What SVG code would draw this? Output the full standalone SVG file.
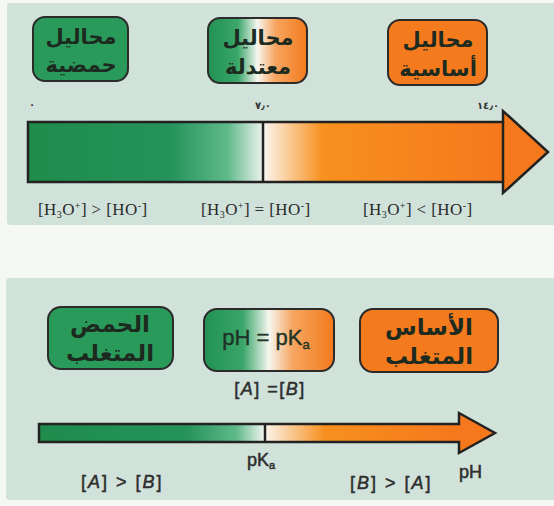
<svg xmlns="http://www.w3.org/2000/svg" width="554" height="506" viewBox="0 0 554 506">
  <defs>
    <linearGradient id="boxMix" x1="0" y1="0" x2="1" y2="0">
      <stop offset="0" stop-color="#239153"/>
      <stop offset="0.3" stop-color="#3aa66a"/>
      <stop offset="0.5" stop-color="#f6f6f0"/>
      <stop offset="0.68" stop-color="#f7a661"/>
      <stop offset="1" stop-color="#f27a1c"/>
    </linearGradient>
    <linearGradient id="barTop" gradientUnits="userSpaceOnUse" x1="28" y1="0" x2="503" y2="0">
      <stop offset="0" stop-color="#1f8c4c"/>
      <stop offset="0.3" stop-color="#25935a"/>
      <stop offset="0.42" stop-color="#5fb98a"/>
      <stop offset="0.497" stop-color="#f2f5f0"/>
      <stop offset="0.503" stop-color="#fbf0e2"/>
      <stop offset="0.62" stop-color="#f7901f"/>
      <stop offset="1" stop-color="#f6781c"/>
    </linearGradient>
    <linearGradient id="barBot" gradientUnits="userSpaceOnUse" x1="39" y1="0" x2="459" y2="0">
      <stop offset="0" stop-color="#1f8c4c"/>
      <stop offset="0.35" stop-color="#25935a"/>
      <stop offset="0.47" stop-color="#5fb98a"/>
      <stop offset="0.535" stop-color="#eef4ee"/>
      <stop offset="0.545" stop-color="#fbf0e2"/>
      <stop offset="0.68" stop-color="#f7901f"/>
      <stop offset="1" stop-color="#f6781c"/>
    </linearGradient>
    <style>
      .panel { fill: #d1e2da; }
      .box { stroke: #2b2b2b; stroke-width: 2; }
      .acid { fill: #2a9a5b; }
      .base { fill: #f47a1e; }
      .mix { fill: url(#boxMix); }
      .ar { font-family: "DejaVu Sans", sans-serif; font-weight: bold; font-size: 21px; fill: #1c2a20; text-anchor: middle; direction: rtl; }
      .ar2 { font-size: 23px; }
      .tick { font-family: "DejaVu Sans", sans-serif; font-size: 10px; font-weight: bold; fill: #333; text-anchor: middle; }
      .serif { font-family: "Liberation Serif", serif; font-size: 17px; letter-spacing: 0.4px; fill: #2a2a2a; }
      .sup { font-size: 10px; }
      .sans { font-family: "Liberation Sans", sans-serif; font-size: 18px; fill: #2e2e2e; stroke: #2e2e2e; stroke-width: 0.5; }
      .it { font-style: italic; }
      .edge { fill: none; stroke: #222; stroke-width: 2.5; stroke-linejoin: miter; }
    </style>
  </defs>

  <rect width="554" height="506" fill="#f5f7f5"/>

  <!-- upper panel: water scale -->
  <rect class="panel" x="7" y="3" width="560" height="222" rx="4"/>

  <g id="acidic">
    <rect class="box acid" x="33" y="17" width="95" height="64" rx="12"/>
    <text class="ar" x="81" y="44">محاليل</text>
    <text class="ar" x="81" y="72">حمضية</text>
  </g>
  <g id="neutral">
    <rect class="box mix" x="208" y="18" width="99" height="65" rx="12"/>
    <text class="ar" x="258" y="45">محاليل</text>
    <text class="ar" x="258" y="74">معتدلة</text>
  </g>
  <g id="basic">
    <rect class="box base" x="388" y="20" width="99" height="65" rx="12"/>
    <text class="ar" x="438" y="47">محاليل</text>
    <text class="ar" x="438" y="76">أساسية</text>
  </g>

  <g id="scale-top">
    <path d="M28,122 H503 V111 L548,152 L503,193 V182 H28 Z" fill="url(#barTop)"/>
    <path d="M503,122 V111 L548,152 L503,193 V182" fill="#f6781c"/>
    <path class="edge" d="M28,122 H503 V111 L548,152 L503,193 V182 H28 Z"/>
    <line x1="263" y1="122" x2="263" y2="182" stroke="#222" stroke-width="2.5"/>
    <line x1="503" y1="122" x2="503" y2="182" stroke="#222" stroke-width="2.5"/>
    <text class="tick" x="32" y="108">٠</text>
    <text class="tick" x="263" y="109">٧٫٠</text>
    <text class="tick" x="488" y="109">١٤٫٠</text>
  </g>

  <g id="ratios-top">
    <text class="serif" x="38" y="215">[H<tspan class="sup" dy="3">3</tspan><tspan dy="-3">O</tspan><tspan class="sup" dy="-6">+</tspan><tspan dy="6">] &gt; [HO</tspan><tspan class="sup" dy="-6">-</tspan><tspan dy="6">]</tspan></text>
    <text class="serif" x="201" y="215">[H<tspan class="sup" dy="3">3</tspan><tspan dy="-3">O</tspan><tspan class="sup" dy="-6">+</tspan><tspan dy="6">] = [HO</tspan><tspan class="sup" dy="-6">-</tspan><tspan dy="6">]</tspan></text>
    <text class="serif" x="363" y="215">[H<tspan class="sup" dy="3">3</tspan><tspan dy="-3">O</tspan><tspan class="sup" dy="-6">+</tspan><tspan dy="6">] &lt; [HO</tspan><tspan class="sup" dy="-6">-</tspan><tspan dy="6">]</tspan></text>
  </g>

  <!-- lower panel: acid/base pair -->
  <rect class="panel" x="6" y="278" width="560" height="222" rx="4"/>

  <g id="acid-dominant">
    <rect class="box acid" x="48" y="307" width="125" height="62" rx="13"/>
    <text class="ar ar2" x="110" y="332">الحمض</text>
    <text class="ar ar2" x="110" y="361">المتغلب</text>
  </g>
  <g id="half-point">
    <rect class="box mix" x="204" y="309" width="130" height="62" rx="13"/>
    <text x="266" y="345" font-family="Liberation Sans, sans-serif" font-size="22" fill="#1e3326" stroke="#1e3326" stroke-width="0.4" text-anchor="middle">pH = pK<tspan font-size="13" dy="4">a</tspan></text>
    <text class="sans" x="270" y="395" text-anchor="middle" letter-spacing="1.5">[<tspan class="it">A</tspan>] =[<tspan class="it">B</tspan>]</text>
  </g>
  <g id="base-dominant">
    <rect class="box base" x="360" y="309" width="138" height="63" rx="13"/>
    <text class="ar ar2" x="429" y="335">الأساس</text>
    <text class="ar ar2" x="429" y="364">المتغلب</text>
  </g>

  <g id="scale-bottom">
    <path d="M39,424 H459 V413 L495,433 L459,453 V442 H39 Z" fill="url(#barBot)"/>
    <path d="M459,424 V413 L495,433 L459,453 V442" fill="#f6781c"/>
    <path class="edge" d="M39,424 H459 V413 L495,433 L459,453 V442 H39 Z"/>
    <line x1="265" y1="424" x2="265" y2="442" stroke="#222" stroke-width="2.5"/>
  </g>

  <g id="ratios-bottom">
    <text class="sans" x="81" y="488" letter-spacing="2">[<tspan class="it">A</tspan>] &gt; [<tspan class="it">B</tspan>]</text>
    <text class="sans" x="247" y="466">pK<tspan font-size="11" dy="3">a</tspan></text>
    <text class="sans" x="350" y="489" letter-spacing="2">[<tspan class="it">B</tspan>] &gt; [<tspan class="it">A</tspan>]</text>
    <text class="sans" x="459" y="478" font-size="20">pH</text>
  </g>
</svg>
